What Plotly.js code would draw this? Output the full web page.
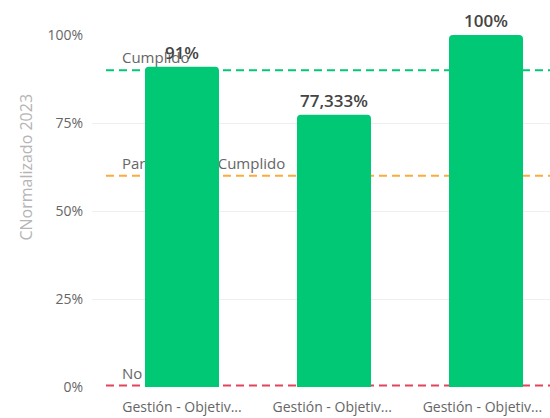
<!DOCTYPE html>
<html><head><meta charset="utf-8">
<script src="https://cdn.plot.ly/plotly-3.0.1.min.js"></script>
<style>html,body{margin:0;padding:0;background:#fff}#c{width:550px;height:418px}</style>
</head><body><div id="c"></div>
<script>
const categories = ["Gestión - Objetiv...", "Gestión - Objetiv... ", "Gestión - Objetiv...  "];
const values = [91, 77.333, 100];
const refValues = [90, 60, 0.4];
const refLabels = ["Cumplido", "Parcialmente Cumplido", "No Cumplido"];
const refColors = ["#00c875", "#fdab3d", "#e2445c"];
const yTicks = [0, 25, 50, 75, 100];
const yTickText = ["0%", "25%", "50%", "75%", "100%"];

const FONT = "Open Sans, sans-serif";

const shapes = [];
refValues.forEach((v, i) => {
  shapes.push({
    type: "line", xref: "x", yref: "y", x0: -0.5, x1: 2.421, y0: v, y1: v,
    layer: "below",
    line: {color: refColors[i], width: 2, dash: "8px,5px"}
  });
  shapes.push({
    type: "line", xref: "x", yref: "y", x0: -0.395, x1: 2.421, y0: v, y1: v,
    layer: "below",
    line: {color: "rgba(0,0,0,0)", width: 0},
    label: {text: refLabels[i], textposition: "start", xanchor: "left", yanchor: "bottom", font: {family: FONT, size: 15, color: "#666"}, padding: 2}
  });
});

const trace = {
  type: "bar", x: [0,1,2], y: values,
  marker: {color: "#00c875", cornerradius: 4},
  texttemplate: "%{y:,.3~f}%", textposition: "outside", cliponaxis: false,
  textfont: {family: FONT, size: 17, color: "#444", weight: 600},
  hoverinfo: "none"
};

const layout = {
  width: 550, height: 418,
  margin: {l: 92, r: 0, t: 35, b: 31},
  paper_bgcolor: "#fff", plot_bgcolor: "#fff",
  separators: ",.",
  bargap: 0.513,
  showlegend: false,
  font: {family: FONT, color: "#666", size: 14},
  xaxis: {range: [-0.592, 2.421], tickvals: [0,1,2], ticktext: categories, showgrid: false, zeroline: false, showline: false, ticks: "", ticklabelstandoff: 10, tickfont: {size: 14, color: "#666"}, fixedrange: true},
  yaxis: {range: [0, 100], tickvals: yTicks, ticktext: yTickText, showgrid: true, gridcolor: "#efefef", gridwidth: 1, zeroline: false, showline: false, ticks: "", ticklabelstandoff: 8, tickfont: {size: 14, color: "#666"}},
  shapes: shapes,
  annotations: [{text: "CNormalizado 2023", xref: "paper", yref: "paper", x: -0.145, y: 0.625, textangle: -90, showarrow: false, font: {family: FONT, size: 16, color: "#b5b5b5"}, xanchor: "center", yanchor: "middle"}]
};

Plotly.newPlot("c", [trace], layout, {displayModeBar: false, staticPlot: true});
</script></body></html>
